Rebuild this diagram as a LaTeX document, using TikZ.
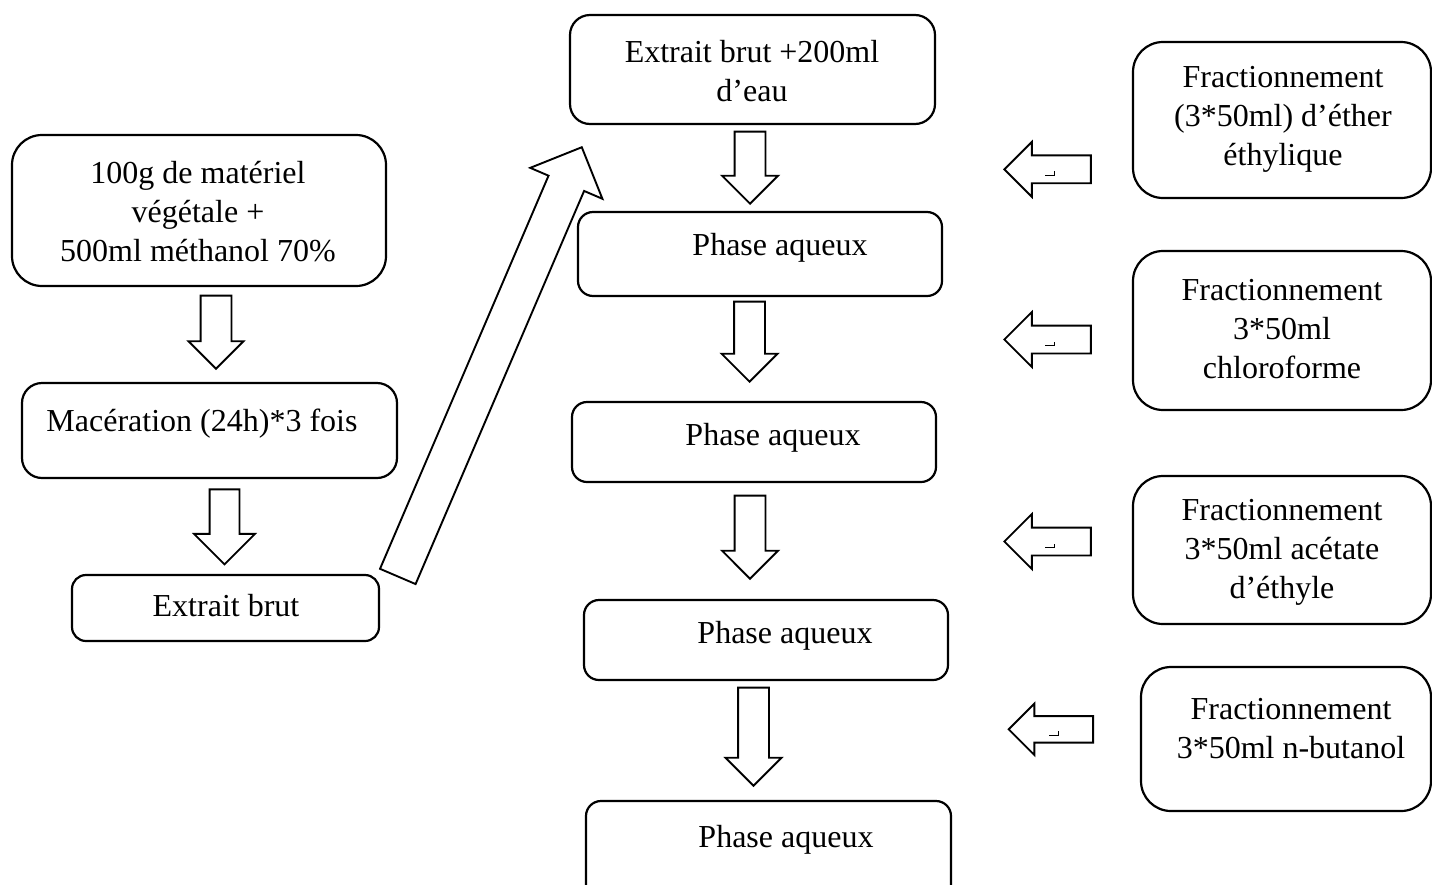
\documentclass[tikz,border=0pt]{standalone}
\usepackage{fontspec}
\setmainfont{Liberation Serif}
\usetikzlibrary{shapes.arrows,positioning}

\begin{document}
\begin{tikzpicture}[
    x=1pt, y=-1pt,
    font=\fontsize{32}{39}\selectfont,
    box/.style={draw, rounded corners=#1, line width=2.2pt, inner sep=0pt},
    txt/.style={align=center, inner sep=0pt},
    blockarr/.style={single arrow, draw, line width=1.9pt, inner xsep=0pt, text height=0pt, text depth=0pt, single arrow tip angle=90, anchor=tip},
    tick/.style={line width=1pt}
]
  \useasboundingbox (0,0) rectangle (1432,884);
  \clip (0,0) rectangle (1432,884);

  % -------------------------------------------------------------
  % colonne gauche : extraction
  % -------------------------------------------------------------
  \node[box=30pt, minimum width=374pt, minimum height=151pt] (mat) at (199,210.5) {};
  \node[txt] (mat_t) at (198,212) {100g de matériel\\végétale +\\500ml méthanol 70\%};

  \node[blockarr, rotate=-90, minimum height=73pt, inner ysep=14.5pt, single arrow head extend=12pt] (dl1) at (216,370) {};

  \node[box=20pt, minimum width=375pt, minimum height=95pt] (mac) at (209.5,430.5) {};
  \node[txt] (mac_t) at (202,424) {Macération (24h)*3 fois};

  \node[blockarr, rotate=-90, minimum height=75pt, inner ysep=14pt, single arrow head extend=15.5pt] (dl2) at (224.5,565.7) {};

  \node[box=14pt, minimum width=307pt, minimum height=66pt] (brut) at (225.5,608) {};
  \node[txt] (brut_t) at (226,606) {Extrait brut};

  % fleche vers la colonne centrale
  \node[blockarr, rotate=66.8, minimum height=467pt, inner ysep=18.4pt, single arrow head extend=19.9pt] (dg) at (582.3,146) {};

  % -------------------------------------------------------------
  % colonne centrale : phases aqueuses
  % -------------------------------------------------------------
  \node[box=20pt, minimum width=365pt, minimum height=109pt] (eau) at (752.5,69.5) {};
  \node[txt] (eau_t) at (752,71) {Extrait brut +200ml\\d’eau};

  \node[blockarr, rotate=-90, minimum height=72pt, inner ysep=14.5pt, single arrow head extend=12.5pt] (dc1) at (750,205) {};

  \node[box=15pt, minimum width=364pt, minimum height=84pt] (ph1) at (760,254) {};
  \node[txt] (ph1_t) at (780,248) {Phase aqueux};

  \node[blockarr, rotate=-90, minimum height=80pt, inner ysep=14.5pt, single arrow head extend=12.5pt] (dc2) at (749.5,383) {};

  \node[box=15pt, minimum width=364pt, minimum height=80pt] (ph2) at (754,442) {};
  \node[txt] (ph2_t) at (773,438) {Phase aqueux};

  \node[blockarr, rotate=-90, minimum height=83pt, inner ysep=14.5pt, single arrow head extend=12.5pt] (dc3) at (750,580) {};

  \node[box=15pt, minimum width=364pt, minimum height=80pt] (ph3) at (766,640) {};
  \node[txt] (ph3_t) at (785,636) {Phase aqueux};

  \node[blockarr, rotate=-90, minimum height=98pt, inner ysep=14.5pt, single arrow head extend=12.5pt] (dc4) at (753.5,787) {};

  \node[box=15pt, minimum width=365pt, minimum height=104pt] (ph4) at (768.5,853) {};
  \node[txt] (ph4_t) at (786,840) {Phase aqueux};

  % -------------------------------------------------------------
  % colonne droite : solvants de fractionnement
  % -------------------------------------------------------------
  \node[box=30pt, minimum width=298pt, minimum height=156pt] (eth) at (1282,120) {};
  \node[txt] (eth_t) at (1283,119) {Fractionnement\\(3*50ml) d’éther\\éthylique};

  \node[box=30pt, minimum width=298pt, minimum height=159pt] (chl) at (1282,330.5) {};
  \node[txt] (chl_t) at (1282,329) {Fractionnement\\3*50ml\\chloroforme};

  \node[box=30pt, minimum width=298pt, minimum height=148pt] (ace) at (1282,550) {};
  \node[txt] (ace_t) at (1282,552) {Fractionnement\\3*50ml acétate\\d’éthyle};

  \node[box=30pt, minimum width=290pt, minimum height=144pt] (but) at (1286,739) {};
  \node[txt] (but_t) at (1291,729) {Fractionnement\\3*50ml n-butanol};

  % fleches d'ajout des solvants
  \node[blockarr, rotate=180, minimum height=86.5pt, inner ysep=13pt, single arrow head extend=13.5pt] (la1) at (1003,169.3) {};
  \node[blockarr, rotate=180, minimum height=86.5pt, inner ysep=13pt, single arrow head extend=13.5pt] (la2) at (1003,339.5) {};
  \node[blockarr, rotate=180, minimum height=86.5pt, inner ysep=13pt, single arrow head extend=13.5pt] (la3) at (1003,541.5) {};
  \node[blockarr, rotate=180, minimum height=84.5pt, inner ysep=12.3pt, single arrow head extend=12.5pt] (la4) at (1007.3,729.3) {};

  \draw[tick] ([shift={(42,6)}]la1.tip) -- ++(9,0) -- ++(0,-4);
  \draw[tick] ([shift={(42,6)}]la2.tip) -- ++(9,0) -- ++(0,-4);
  \draw[tick] ([shift={(42,6)}]la3.tip) -- ++(9,0) -- ++(0,-4);
  \draw[tick] ([shift={(42,6)}]la4.tip) -- ++(9,0) -- ++(0,-4);

\end{tikzpicture}
\end{document}
